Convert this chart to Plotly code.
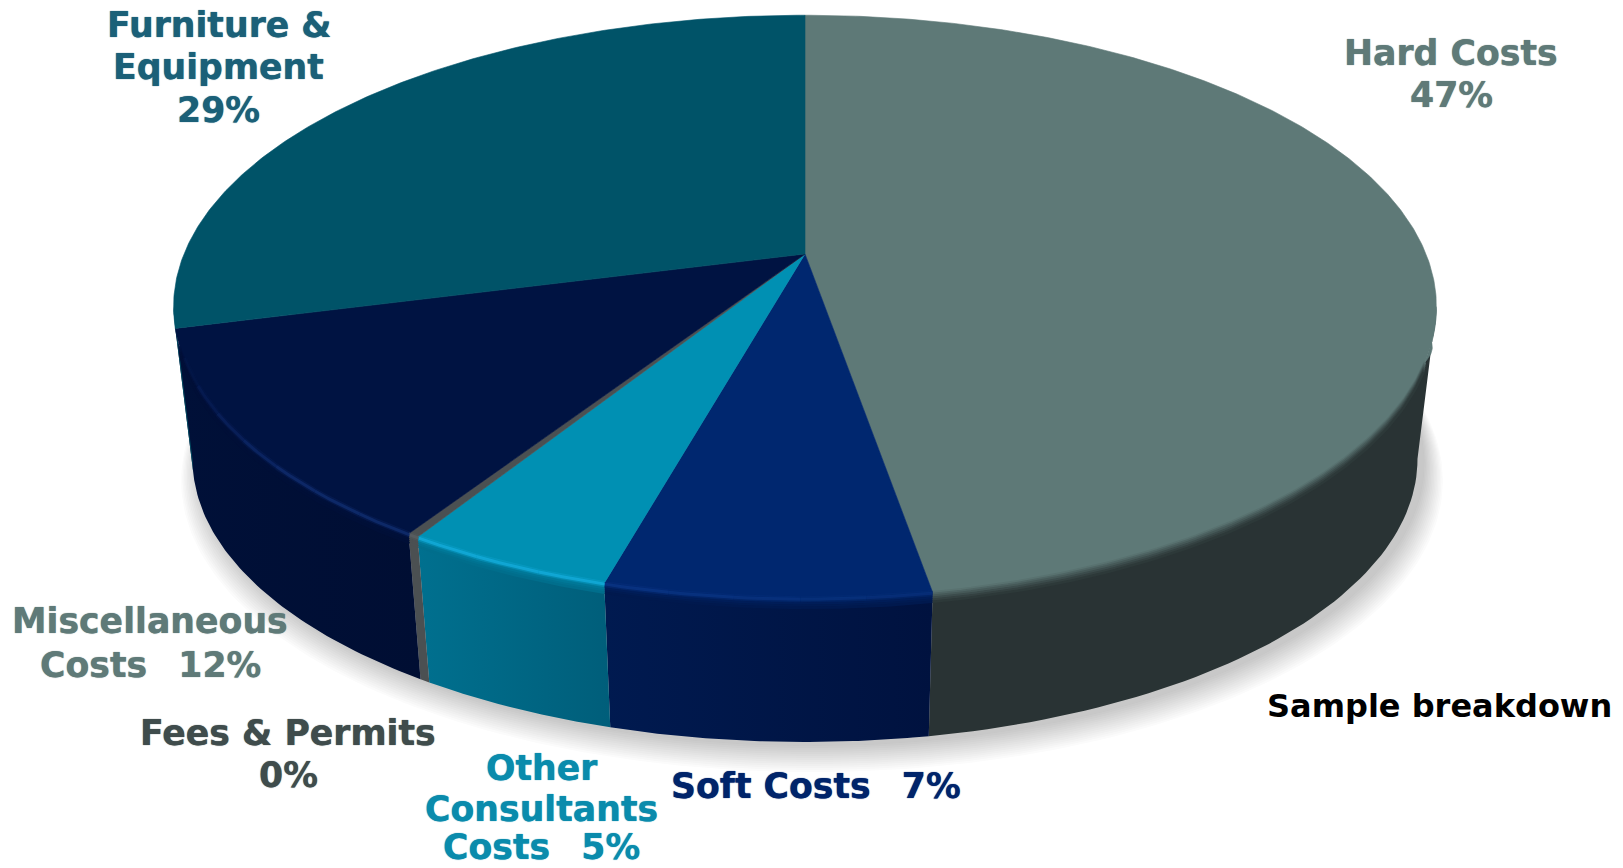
import numpy as np
import plotly.graph_objects as go

# Budget shares, clockwise from twelve o'clock
categories = ["Hard Costs", "Soft Costs", "Other Consultants Costs",
              "Fees & Permits", "Miscellaneous Costs", "Furniture & Equipment"]
shares = [47.3, 7.0, 4.55, 0.25, 11.85, 29.05]

top_colors = ["#5E7977", "#00276F", "#0090B3", "#4B5052", "#001342", "#005368"]
side_left = ["#293334", "#001A50", "#00708F", "#4B5052", "#001038", "#004A60"]
side_right = ["#293334", "#00123F", "#005E7A", "#4B5052", "#000E33", "#004A60"]
highlight = ["#5E7977", "#0D3A8C", "#18B4E6", "#5E6366", "#14337A", "#005368"]
label_colors = ["#5F7A78", "#00246A", "#0A8BAC", "#3F4C4C", "#5F7A78", "#1B6078"]

# (category index, line of text, x, y); {p} is replaced by the rounded share
GAP = "\u00a0\u00a0\u2009"
label_lines = [
    (0, "Hard Costs", 1451, 53), (0, "{p}", 1451, 95),
    (1, "Soft Costs" + GAP + "{p}", 816, 786),
    (2, "Other", 541, 768), (2, "Consultants", 541, 809), (2, "Costs" + GAP + "{p}", 541, 847),
    (3, "Fees & Permits", 288, 733), (3, "{p}", 288, 775),
    (4, "Miscellaneous", 150, 621), (4, "Costs" + GAP + "{p}", 150, 665),
    (5, "Furniture &", 219, 25), (5, "Equipment", 218, 67), (5, "{p}", 218, 110),
]
caption = "Sample breakdown"

# Perspective disc model
CX, CY = 805.0, 254.0
A, B, P = 621.0, 282.0, 0.181
DROP, SHRINK = 154.0, 0.03


def project(theta_deg, r=1.0, d=0.0, grow=0.0, shift=(0.0, 0.0)):
    """Map an angle (clockwise from top), radius and depth fraction to page pixels."""
    t = np.radians(theta_deg)
    u, v = r * np.sin(t), r * np.cos(t)
    w = 1 + P * v
    s = (1 - SHRINK * d) * (1 + grow)
    return (CX + shift[0] + A * s * u / w,
            CY + shift[1] + DROP * d + B * s * (-v) / w)


def lerp_hex(c1, c2, f):
    a = np.array([int(c1[i:i + 2], 16) for i in (1, 3, 5)], float)
    b = np.array([int(c2[i:i + 2], 16) for i in (1, 3, 5)], float)
    return "rgb(%d,%d,%d)" % tuple((a + (b - a) * f).round())


def poly(x, y, color=None, gradient=None, edge=0.6):
    kw = dict(x=np.asarray(x), y=np.asarray(y), mode="lines", fill="toself",
              hoverinfo="skip", showlegend=False)
    if gradient:
        kw["fillgradient"] = dict(type="horizontal", colorscale=[[0, gradient[0]], [1, gradient[1]]])
        kw["line"] = dict(width=0, color=gradient[0])
    else:
        kw["fillcolor"] = color
        kw["line"] = dict(width=edge, color=color)
    return go.Scatter(**kw)


fig = go.Figure()

# Soft ground shadow under the disc
all_theta = np.linspace(0, 360, 361)
for k in range(14):
    f = k / 13
    x, y = project(all_theta, d=1.0, grow=0.03 * (1 - f), shift=(7, 4 + 16 * (1 - f)))
    fig.add_trace(poly(x, y, "rgba(60,60,60,0.018)", edge=0))

edges = np.concatenate([[0], np.cumsum(shares)]) * 3.6
LEFT_T, RIGHT_T = 259.6, 100.4
SHOULDER_END = 111.0

# Outer wall of each slice, limited to the part facing the viewer
for i in range(len(shares)):
    a, b = max(edges[i], RIGHT_T), min(edges[i + 1], LEFT_T)
    if b <= a:
        continue
    th = np.linspace(a, b, 60)
    xt, yt = project(th)
    xb, yb = project(th, d=1.0)
    fig.add_trace(poly(np.r_[xt, xb[::-1]], np.r_[yt, yb[::-1]],
                       gradient=(side_left[i], side_right[i])))

# Right shoulder, where the top colour rolls over the edge before the wall starts
th = np.linspace(RIGHT_T, SHOULDER_END, 30)
xt, yt = project(th)
xs, ys = project(th, d=0.24 * (SHOULDER_END - th) / (SHOULDER_END - RIGHT_T))
fig.add_trace(poly(np.r_[xt, xs[::-1]], np.r_[yt, ys[::-1]], top_colors[0]))

# Top face wedges
for i in range(len(shares)):
    th = np.linspace(edges[i], edges[i + 1], max(int((edges[i + 1] - edges[i]) * 2), 4))
    xa, ya = project(th)
    x0, y0 = project(0.0, r=0.0)
    fig.add_trace(poly(np.r_[x0, xa, x0], np.r_[y0, ya, y0], top_colors[i]))

# Bevel: bands stepping from the top colour into the wall colour
bevel_steps = [(1.0, 0.0, 0.10), (1.0, 0.012, 0.28), (1.0, 0.024, 0.46),
               (1.0, 0.038, 0.64), (1.0, 0.052, 0.80), (1.0, 0.066, 0.92)]
for i in range(len(shares)):
    a, b = max(edges[i], SHOULDER_END), min(edges[i + 1], 252)
    if b <= a:
        continue
    th = np.linspace(a, b, 80)
    wall = lerp_hex(side_left[i], side_right[i], 0.3)
    wall_hex = "#%02X%02X%02X" % tuple(int(n) for n in wall[4:-1].split(","))
    for r, d, f in bevel_steps:
        x, y = project(th, r=r, d=d)
        fig.add_trace(go.Scatter(x=x, y=y, mode="lines", hoverinfo="skip", showlegend=False,
                                 line=dict(width=2.6, color=lerp_hex(top_colors[i], wall_hex, f))))


def glow(theta):
    """Strength of the rim light along the front of the disc."""
    return float(np.interp(theta, [160, 195, 225, 252], [0.35, 1.0, 1.0, 0.0]))


# Rim light, fading towards both ends of the front edge
for i in range(1, 5):
    a, b = edges[i], edges[i + 1]
    n = max(int((b - a) / 5), 1)
    cuts = np.linspace(a, b, n + 1)
    for c0, c1 in zip(cuts[:-1], cuts[1:]):
        th = np.linspace(c0, c1, 12)
        x, y = project(th, r=0.998, d=0.012)
        g = glow((c0 + c1) / 2)
        r_, g_, b_ = [int(highlight[i][j:j + 2], 16) for j in (1, 3, 5)]
        for wid, op in ((6, 0.22), (3, 0.6)):
            fig.add_trace(go.Scatter(x=x, y=y, mode="lines", hoverinfo="skip", showlegend=False,
                                     line=dict(width=wid, color=f"rgba({r_},{g_},{b_},{op * g:.3f})")))

# Slice labels
for idx, line, lx, ly in label_lines:
    text = line.replace("{p}", f"{round(shares[idx])}%")
    col = label_colors[idx]
    fig.add_annotation(x=lx, y=ly, text=f"<b>{text}</b>", showarrow=False, xanchor="center", yanchor="middle",
                       font=dict(family="DejaVu Sans", size=34.7, color=col, shadow=f"0 0 1px {col}"))
fig.add_annotation(x=1439, y=706, text=f"<b>{caption}</b>", showarrow=False, xanchor="center", yanchor="middle",
                   font=dict(family="DejaVu Sans", size=32, color="#000000"))

fig.update_layout(
    width=1623, height=868, margin=dict(l=0, r=0, t=0, b=0),
    paper_bgcolor="white", plot_bgcolor="white", showlegend=False,
    xaxis=dict(range=[0, 1623], visible=False, fixedrange=True),
    yaxis=dict(range=[868, 0], visible=False, fixedrange=True),
)
fig.write_html("out.html", config=dict(displayModeBar=False))
